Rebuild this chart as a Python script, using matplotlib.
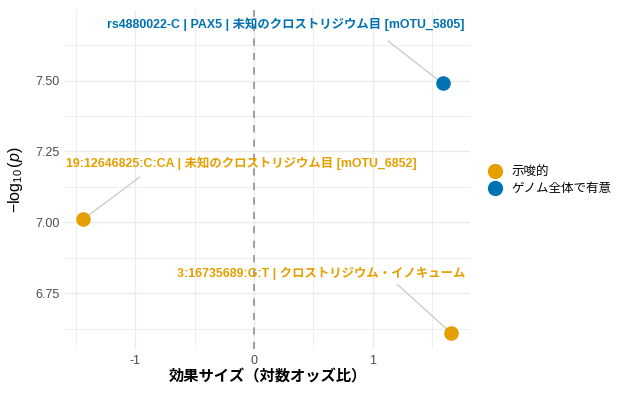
import matplotlib
matplotlib.use("Agg")
import matplotlib.pyplot as plt
from matplotlib.lines import Line2D

plt.rcParams['font.family'] = ['Liberation Sans', 'Noto Sans CJK JP', 'DejaVu Sans']
plt.rcParams['mathtext.fontset'] = 'custom'
plt.rcParams['mathtext.rm'] = 'Liberation Sans'
plt.rcParams['mathtext.it'] = 'Liberation Sans:italic'

labels = ["rs4880022-C | PAX5 | 未知のクロストリジウム目 [mOTU_5805]",
          "19:12646825:C:CA | 未知のクロストリジウム目 [mOTU_6852]",
          "3:16735689:G:T | クロストリジウム・イノキューム"]
effect = [1.59, -1.44, 1.66]
neglogp = [7.49, 7.01, 6.61]
category = ["ゲノム全体で有意", "示唆的", "示唆的"]
label_x = [0.27, -0.105, 0.57]
label_y = [7.70, 7.21, 6.82]
seg_end_x = [1.13, -0.96, 1.21]
seg_end_y = [7.64, 7.16, 6.78]

colors = {"示唆的": "#E69F00", "ゲノム全体で有意": "#0072B2"}
legend_order = ["示唆的", "ゲノム全体で有意"]

fig = plt.figure(figsize=(6.2, 3.93), dpi=100)
ax = fig.add_axes([0.105, 0.112, 0.653, 0.863])

ax.set_xlim(-1.59, 1.82)
ax.set_ylim(6.553, 7.75)

ax.set_xticks([-1, 0, 1])
ax.set_xticklabels(["-1", "0", "1"])
ax.set_xticks([-1.5, -0.5, 0.5, 1.5], minor=True)
ax.set_yticks([6.75, 7.0, 7.25, 7.5])
ax.set_yticklabels(["6.75", "7.00", "7.25", "7.50"])
ax.set_yticks([6.625, 6.875, 7.125, 7.375, 7.625], minor=True)
ax.grid(True, which='major', color='#EBEBEB', linewidth=1.0)
ax.grid(True, which='minor', color='#EBEBEB', linewidth=0.6)
ax.set_axisbelow(True)
for s in ax.spines.values():
    s.set_visible(False)
ax.tick_params(which='both', length=0, labelsize=9, colors='#4D4D4D', pad=4)

ax.axvline(0, color='#999999', linestyle=(0, (4, 4)), linewidth=1.3, zorder=1)

for x, y, lx, ly, ex, ey, lab, cat in zip(effect, neglogp, label_x, label_y,
                                          seg_end_x, seg_end_y, labels, category):
    ax.plot([x, ex], [y, ey], color='#C8C8C8', linewidth=0.9, zorder=2)
    ax.scatter([x], [y], s=110, color=colors[cat], zorder=3, linewidths=0)
    ax.text(lx, ly, lab, color=colors[cat], fontsize=8.9, fontweight='bold',
            ha='center', va='center', zorder=4)

ax.set_xlabel("効果サイズ（対数オッズ比）", fontsize=11, fontweight='bold', labelpad=2)
ax.set_ylabel(r"$-\log_{10}(p)$", fontsize=11.5, labelpad=7)

handles = [Line2D([0], [0], marker='o', linestyle='', markersize=11,
                  markerfacecolor=colors[c], markeredgewidth=0, label=c)
           for c in legend_order]
fig.legend(handles=handles, loc='center left', bbox_to_anchor=(0.77, 0.54),
           frameon=False, fontsize=9, handletextpad=0.3, labelspacing=0.35,
           borderaxespad=0)

fig.savefig("out.png", dpi=100)
